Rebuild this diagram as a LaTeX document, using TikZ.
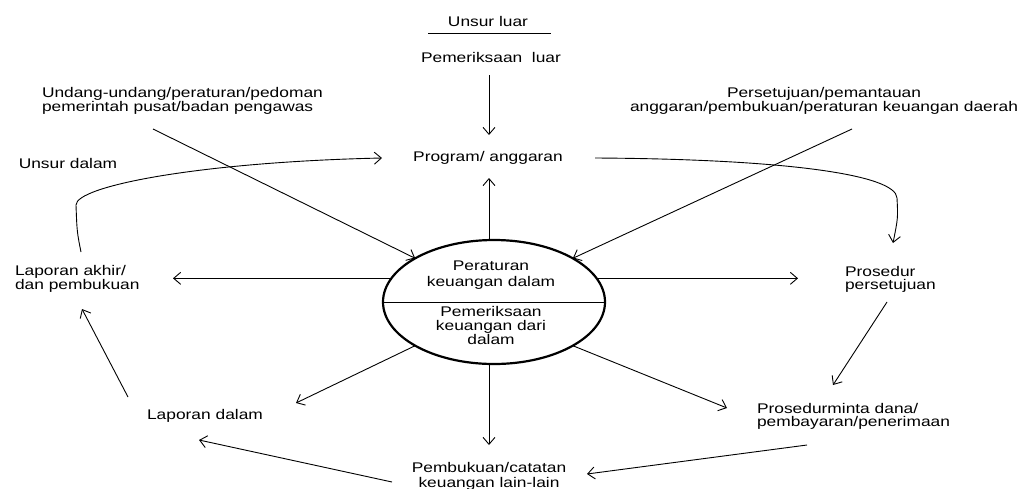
\documentclass[tikz,border=0pt]{standalone}
\usepackage{fontspec}
\setmainfont{Liberation Sans}[FakeStretch=1.24]
\usetikzlibrary{arrows.meta,shapes.geometric,calc}

\begin{document}
\begin{tikzpicture}[x=1pt,y=-1pt,
  lbl/.style={font=\fontsize{14}{13}\selectfont, inner sep=0pt, outer sep=0pt},
  lblmid/.style={lbl, align=center},
  lblleft/.style={lbl, align=left, anchor=west},
  corelbl/.style={font=\fontsize{14}{15.5}\selectfont, inner sep=0pt, outer sep=0pt, align=center},
  arr/.style={draw, line width=0.9pt, -{Straight Barb[length=7pt,width=12pt]}},
  ln/.style={draw, line width=0.9pt}]
\useasboundingbox (0,0) rectangle (1022,488);

% central split ellipse
\node[draw, ellipse, line width=2.2pt, minimum width=222pt, minimum height=124pt,
      inner sep=0pt, outer sep=0pt] (core) at (494,302) {};
\draw[line width=1pt] (core.west) -- (core.east);
\node[corelbl] (rule) at (491,275) {Peraturan\\keuangan dalam};
\node[corelbl, font=\fontsize{14}{14}\selectfont] (audit) at (491,325) {Pemeriksaan\\keuangan dari\\dalam};

% labels
\node[lbl] (outer) at (488,21) {Unsur luar};
\draw[line width=1pt] (428,33) -- (551,33);
\node[lbl] (extaudit) at (491,57) {Pemeriksaan\ \ luar};
\node[lbl] (prog) at (488,158) {Program/ anggaran};
\node[lblleft] (law) at (42,101) {Undang-undang/peraturan/pedoman\\pemerintah pusat/badan pengawas};
\node[lblmid] (approval) at (824,101) {Persetujuan/pemantauan\\anggaran/pembukuan/peraturan keuangan daerah};
\node[lbl] (inner) at (68,163) {Unsur dalam};
\node[lblleft] (final) at (15,279) {Laporan akhir/\\dan pembukuan};
\node[lblleft] (proc) at (845,279) {Prosedur\\persetujuan};
\node[lblleft] (funds) at (757,416) {Prosedurminta dana/\\pembayaran/penerimaan};
\node[lbl] (intrep) at (205,416) {Laporan dalam};
\node[lblmid, font=\fontsize{14}{15}\selectfont] (books) at (489,476) {Pembukuan/catatan\\keuangan lain-lain};

% connector ends
\coordinate (extOut) at (489,75);
\coordinate (progIn) at (489,135);
\coordinate (progOut) at (489,178);
\coordinate (lawOut) at (153,129);
\coordinate (apprOut) at (852,129);
\coordinate (finalIn) at (173,278);
\coordinate (procIn) at (798,278);
\coordinate (procOut) at (887,302);
\coordinate (fundsTop) at (833,385);
\coordinate (fundsIn) at (727,408);
\coordinate (fundsOut) at (807,445);
\coordinate (booksIn) at (587,474);
\coordinate (booksTop) at (489,445);
\coordinate (intIn) at (296,403);
\coordinate (booksOut) at (392,482);
\coordinate (intIn2) at (199,440);
\coordinate (intOut) at (128,397);
\coordinate (finalUp) at (82,309);
\coordinate (finalOut) at (81,252);
\coordinate (progL) at (382,158);
\coordinate (progR) at (595,158);
\coordinate (procTop) at (893,243);

% connectors
\draw[arr] (extOut) -- (progIn);
\draw[arr] (progOut |- core.north) -- (progOut);
\draw[arr] (lawOut) -- (core.151);
\draw[arr] (apprOut) -- (core.29);
\draw[arr] (core.167) -- (core.167 -| finalIn);
\draw[arr] (core.13) -- (core.13 -| procIn);
\draw[arr] (procOut) -- (fundsTop);
\draw[arr] (core.331) -- (fundsIn);
\draw[arr] (fundsOut) -- (booksIn);
\draw[arr] (booksTop |- core.south) -- (booksTop);
\draw[arr] (core.209) -- (intIn);
\draw[arr] (booksOut) -- (intIn2);
\draw[arr] (intOut) -- (finalUp);

% feedback loops round the top
\draw[arr] (finalOut) .. controls (77,232) .. (76,205)
  .. controls (76,186) and (200,162) .. (progL);
\draw[arr] (progR) .. controls (780,159) and (896,174) .. (897,198)
  .. controls (898,218) .. (procTop);
\end{tikzpicture}
\end{document}
